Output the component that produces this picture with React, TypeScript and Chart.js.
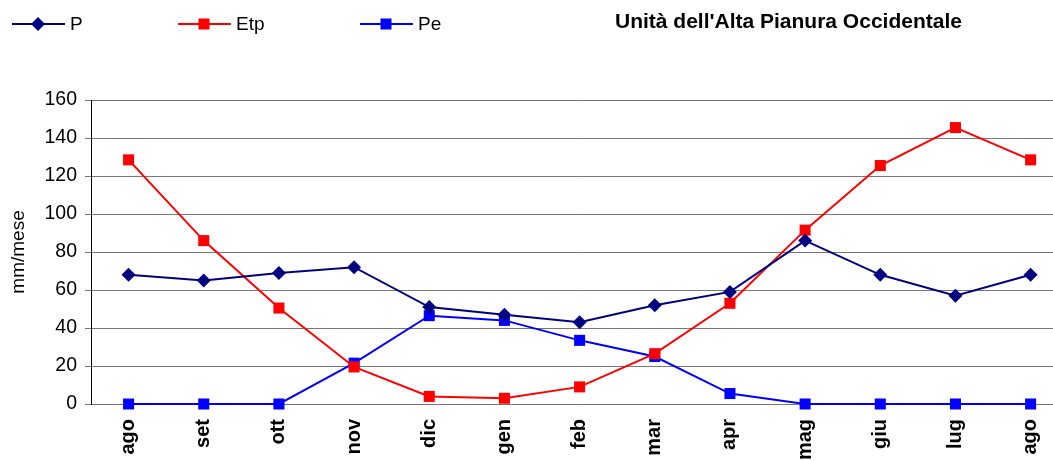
import React, { useEffect, useRef } from 'react';
import { Chart, registerables } from 'chart.js';

Chart.register(...registerables);

const months = ['ago', 'set', 'ott', 'nov', 'dic', 'gen', 'feb', 'mar', 'apr', 'mag', 'giu', 'lug', 'ago'];
const pValues = [68, 65, 69, 72, 51, 47, 43, 52, 59, 86, 68, 57, 68];
const etpValues = [128.5, 86, 50.5, 19.5, 4, 3, 9, 26.5, 53, 91.5, 125.5, 145.5, 128.5];
const peValues = [0, 0, 0, 21.5, 46.5, 44, 33.5, 25, 5.5, 0, 0, 0, 0];
const seriesNames = ['P', 'Etp', 'Pe'];
const seriesColors = ['#000080', '#FF0000', '#0000FF'];
const seriesMarkers = ['rectRot', 'rect', 'rect'];
const yMin = 0;
const yMax = 160;
const yStep = 20;
const chartTitle = "Unità dell'Alta Pianura Occidentale";
const yAxisTitle = 'mm/mese';

const FONT = '"Liberation Sans", Arial, sans-serif';

function drawMarker(ctx: CanvasRenderingContext2D, style: string, x: number, y: number, color: string) {
  ctx.save();
  ctx.fillStyle = color;
  ctx.beginPath();
  if (style === 'rectRot') {
    const r = 7;
    ctx.moveTo(x - r, y);
    ctx.lineTo(x, y - r);
    ctx.lineTo(x + r, y);
    ctx.lineTo(x, y + r);
    ctx.closePath();
  } else {
    const s = 5.5;
    ctx.rect(x - s, y - s, 2 * s, 2 * s);
  }
  ctx.fill();
  ctx.restore();
}

const overlayPlugin = {
  id: 'overlay',
  afterDraw(chart: any) {
    const ctx: CanvasRenderingContext2D = chart.ctx;
    ctx.save();
    // legend
    const legendX = [12, 178, 360];
    const legendY = 24;
    chart.data.datasets.forEach((ds: any, i: number) => {
      const x0 = legendX[i];
      ctx.strokeStyle = ds.borderColor;
      ctx.lineWidth = 2;
      ctx.beginPath();
      ctx.moveTo(x0, legendY);
      ctx.lineTo(x0 + 53, legendY);
      ctx.stroke();
      drawMarker(ctx, ds.pointStyle, x0 + 26, legendY, ds.borderColor);
      ctx.fillStyle = '#000';
      ctx.font = `19px ${FONT}`;
      ctx.textAlign = 'left';
      ctx.textBaseline = 'middle';
      ctx.fillText(ds.label, x0 + 58, legendY + 1);
    });
    // title
    ctx.font = `bold 21px ${FONT}`;
    ctx.fillStyle = '#000';
    ctx.textAlign = 'left';
    ctx.textBaseline = 'middle';
    ctx.fillText(chartTitle, 615, 22);
    // y axis title
    const area = chart.chartArea;
    ctx.translate(19, (area.top + area.bottom) / 2);
    ctx.rotate(-Math.PI / 2);
    ctx.font = `19px ${FONT}`;
    ctx.textAlign = 'center';
    ctx.textBaseline = 'middle';
    ctx.fillText(yAxisTitle, 0, 0);
    ctx.restore();
  },
};

export default function App() {
  const canvasRef = useRef<HTMLCanvasElement | null>(null);

  useEffect(() => {
    const canvas = canvasRef.current;
    if (!canvas) return;
    const values = [pValues, etpValues, peValues];
    const chart = new Chart(canvas, {
      type: 'line',
      data: {
        labels: months,
        datasets: seriesNames.map((name, i) => ({
          label: name,
          data: values[i],
          borderColor: seriesColors[i],
          backgroundColor: seriesColors[i],
          pointBackgroundColor: seriesColors[i],
          pointBorderColor: seriesColors[i],
          pointBorderWidth: 0,
          pointStyle: seriesMarkers[i],
          pointRadius: seriesMarkers[i] === 'rectRot' ? 7 : 7.8,
          borderWidth: 2,
          tension: 0,
          fill: false,
          clip: false,
        })),
      },
      options: {
        responsive: false,
        animation: false,
        events: [],
        layout: { padding: { top: 100, right: 4, left: 0, bottom: 0 } },
        plugins: {
          legend: { display: false },
          title: { display: false },
          tooltip: { enabled: false },
        },
        scales: {
          x: {
            type: 'category',
            offset: true,
            grid: { display: false, drawTicks: false },
            border: { display: false },
            ticks: {
              autoSkip: false,
              minRotation: 90,
              maxRotation: 90,
              padding: 15,
              color: '#000',
              font: { family: FONT, size: 20, weight: 'bold' },
            },
            afterFit: (scale: any) => {
              scale.height = 57;
            },
          },
          y: {
            min: yMin,
            max: yMax,
            ticks: {
              stepSize: yStep,
              padding: 8,
              color: '#000',
              font: { family: FONT, size: 19.5 },
            },
            grid: { color: '#787878', lineWidth: 1, tickLength: 6, drawTicks: true },
            border: { display: true, color: '#000', width: 1 },
            afterFit: (scale: any) => {
              scale.width = 91;
            },
          },
        },
      },
      plugins: [overlayPlugin],
    } as any);
    return () => chart.destroy();
  }, []);

  return (
    <div
      style={{
        position: 'fixed',
        left: 0,
        top: 0,
        width: 1053,
        height: 461,
        overflow: 'hidden',
        background: '#fff',
      }}
    >
      <canvas ref={canvasRef} width={1076} height={461} style={{ display: 'block' }} />
    </div>
  );
}
